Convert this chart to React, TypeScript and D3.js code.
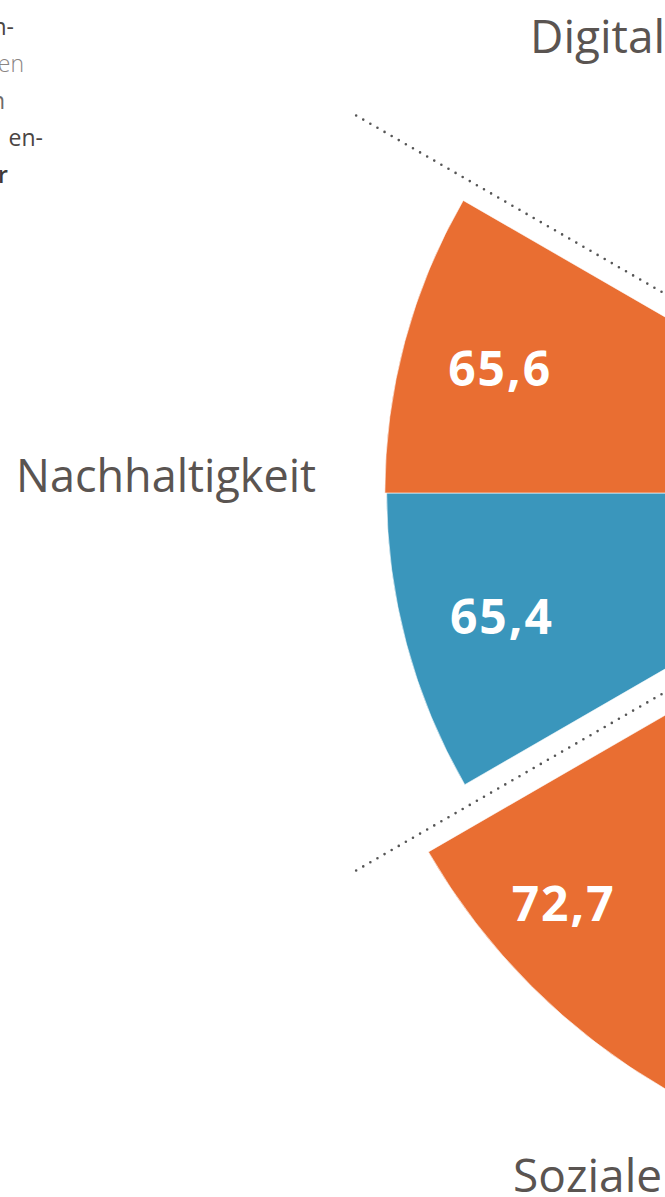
import React from "react";
import * as d3 from "d3";

// ---------- data ----------
const categories = ["Soziale", "Nachhaltigkeit", "Digital"]; // clockwise, starting at 180°
const seriesNames = ["Reihe B", "Reihe A"]; // inner order in each group (clockwise)
const valuesSeriesB: (number | null)[] = [null, 65.4, null]; // blue
const valuesSeriesA: (number | null)[] = [72.7, 65.6, null]; // orange
const categoryLabels = ["Soziale", "Nachhaltigkeit", "Digital"];
const introFragments = ["n-", "en", "n", "en-", "r"];

// ---------- layout ----------
const W = 665;
const H = 1197;
const cx = 1010;
const cy = 493;
const explode = 40;
const groupSpan = 60;
const startDeg = 180;
const colors = ["#3a96bc", "#e96e32"];
const textGray = "#5a5451";
const fontFamily = "'Open Sans', 'Noto Sans', sans-serif";

const rScale = d3.scaleLinear().domain([0, 100]).range([0, 892]);
const rad = (d: number) => (d * Math.PI) / 180;

const arcGen = d3.arc<any>();

export default function App() {
  const sectors: any[] = [];
  categories.forEach((cat, i) => {
    const g0 = startDeg + i * groupSpan;
    const gMid = g0 + groupSpan / 2;
    const ox = cx + Math.sin(rad(gMid)) * explode;
    const oy = cy - Math.cos(rad(gMid)) * explode;
    [valuesSeriesB[i], valuesSeriesA[i]].forEach((v, s) => {
      if (v == null) return;
      const a0 = rad(g0 + s * (groupSpan / 2));
      const a1 = rad(g0 + (s + 1) * (groupSpan / 2));
      const r = rScale(v);
      const mid = (a0 + a1) / 2;
      const ly = oy - Math.cos(mid) * r * 0.82;
      const dy = ly - oy;
      const arcX = ox - Math.sqrt(Math.max(0, r * r - dy * dy));
      sectors.push({
        key: cat + s,
        series: seriesNames[s],
        color: colors[s],
        ox,
        oy,
        path: arcGen({ innerRadius: 0, outerRadius: r, startAngle: a0, endAngle: a1 }),
        label: d3.format(".1f")(v).replace(".", ","),
        lx: arcX + 50,
        ly: ly + 17,
      });
    });
  });

  const boundaries = categories.map((_, i) => rad(startDeg + i * groupSpan));
  const lineLen = 755;

  const fragColors = ["#4a4543", "#8a8583", "#6f6a68", "#4a4543", "#3e3a38"];
  const fragWeights = [400, 300, 400, 500, 600];
  const fragEnds = [14, 24, 5, 43, 8];

  return (
    <svg
      width={W}
      height={H}
      style={{ position: "absolute", left: 0, top: 0, background: "#fff" }}
      fontFamily={fontFamily}
    >
      <rect width={W} height={H} fill="#fff" />
      {introFragments.map((t, i) => (
        <text
          key={i}
          x={fragEnds[i]}
          y={35 + i * 37}
          textAnchor="end"
          fontSize={23}
          fontWeight={fragWeights[i]}
          fill={fragColors[i]}
        >
          {t}
        </text>
      ))}

      {boundaries.map((a, i) => (
        <line
          key={i}
          x1={cx + Math.sin(a) * lineLen}
          y1={cy - Math.cos(a) * lineLen}
          x2={cx}
          y2={cy}
          stroke="#555"
          strokeWidth={2.6}
          strokeLinecap="round"
          strokeDasharray="0 8.2"
        />
      ))}

      {sectors.map((s) => (
        <g key={s.key} transform={`translate(${s.ox},${s.oy})`}>
          <path d={s.path} fill={s.color} stroke="#fff" strokeWidth={0.6} />
        </g>
      ))}
      {sectors.map((s) => (
        <text
          key={s.key + "l"}
          x={s.lx}
          y={s.ly}
          fill="#fff"
          fontSize={48}
          fontWeight={700}
          letterSpacing={2}
        >
          {s.label}
        </text>
      ))}

      <text x={16} y={492} fontSize={45} fill={textGray}>
        {categoryLabels[1]}
      </text>
      <text x={530} y={53} fontSize={46} fill={textGray}>
        {categoryLabels[2]}
      </text>
      <text x={513} y={1192} fontSize={46} fill={textGray}>
        {categoryLabels[0]}
      </text>
    </svg>
  );
}
